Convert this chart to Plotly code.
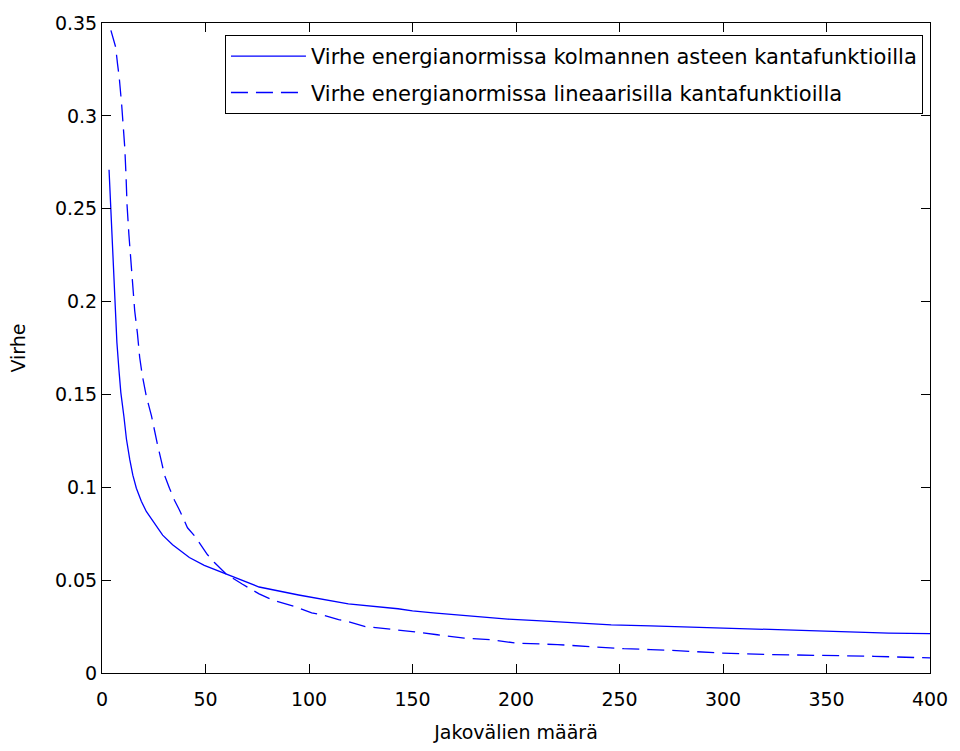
import plotly.graph_objects as go

# Cubic basis functions error (solid)
x_cubic = [3.4, 4.3, 5.3, 6.6, 7.2, 8.2, 9.1, 10.6, 11.8, 13.4, 14.9, 16.6, 19.0, 21.4,
           24.5, 29.3, 34.1, 42.2, 49.4, 60.0, 75.9, 95.0, 106.0, 119.0, 143.0, 150.0,
           160.0, 172.0, 184.0, 196.0, 210.0, 228.0, 246.0, 265.0, 290.0, 315.0, 345.0,
           380.0, 400.0]
err_cubic = [0.271, 0.250, 0.222, 0.197, 0.178, 0.163, 0.151, 0.138, 0.126, 0.115,
             0.1065, 0.0995, 0.0925, 0.087, 0.082, 0.0742, 0.0691, 0.0622, 0.058,
             0.0532, 0.0463, 0.042, 0.0399, 0.0372, 0.0346, 0.0335, 0.0324, 0.0312,
             0.0303, 0.0290, 0.0282, 0.0271, 0.0259, 0.0254, 0.0245, 0.0236, 0.0227,
             0.0215, 0.0212]

# Linear basis functions error (dashed)
x_linear = [4.3, 6.6, 7.5, 8.3, 9.5, 10.2, 11.0, 11.6, 12.1, 13.0, 13.9, 14.9, 15.8,
            17.1, 18.2, 19.5, 21.4, 23.9, 25.4, 26.9, 28.7, 30.2, 32.6, 35.0, 37.4,
            41.3, 44.6, 50.9, 54.2, 60.0, 67.7, 75.9, 82.1, 88.8, 93.6, 101.3, 106.0,
            114.3, 119.0, 127.2, 132.0, 139.7, 150.0, 162.0, 175.0, 188.0, 200.0,
            220.0, 240.0, 252.0, 265.0, 275.0, 298.0, 324.0, 373.0, 400.0]
err_linear = [0.346, 0.337, 0.328, 0.321, 0.306, 0.296, 0.283, 0.268, 0.252, 0.236,
              0.222, 0.207, 0.195, 0.183, 0.170, 0.160, 0.149, 0.1385, 0.130, 0.1225,
              0.114, 0.1065, 0.0995, 0.093, 0.0878, 0.0782, 0.074, 0.0638, 0.0596,
              0.0532, 0.0479, 0.0426, 0.0394, 0.0372, 0.0356, 0.0324, 0.0314, 0.0287,
              0.0277, 0.025, 0.0245, 0.0234, 0.0223, 0.0206, 0.0188, 0.0179, 0.0161,
              0.0153, 0.0138, 0.0131, 0.0126, 0.0122, 0.0108, 0.0099, 0.009, 0.0081]

x_ticks = [0, 50, 100, 150, 200, 250, 300, 350, 400]
y_ticks = [0, 0.05, 0.1, 0.15, 0.2, 0.25, 0.3, 0.35]
y_tick_labels = ["0", "0.05", "0.1", "0.15", "0.2", "0.25", "0.3", "0.35"]

FONT = "DejaVu Sans"

fig = go.Figure()
fig.add_trace(go.Scatter(
    x=x_cubic, y=err_cubic, mode="lines", legendgroup="a",
    line=dict(color="#0000ff", width=1.3),
    name="Virhe energianormissa kolmannen asteen kantafunktioilla"))
fig.add_trace(go.Scatter(
    x=x_linear, y=err_linear, mode="lines", legendgroup="b",
    line=dict(color="#0000ff", width=1.3, dash="17px,8px"),
    name="Virhe energianormissa lineaarisilla kantafunktioilla"))

axis_common = dict(
    showgrid=False, zeroline=False, showline=True, linecolor="black", linewidth=1,
    mirror="allticks", ticks="inside", ticklen=9, tickcolor="black", tickwidth=1,
    tickfont=dict(family=FONT, size=19, color="black"),
)

fig.update_layout(
    width=960, height=751,
    margin=dict(l=102, r=24, t=18, b=74),
    paper_bgcolor="white", plot_bgcolor="white",
    font=dict(family=FONT, size=19, color="black"),
    xaxis=dict(range=[0, 400], tickvals=x_ticks, ticklabelstandoff=9,
               title=dict(text="Jakovälien määrä", font=dict(family=FONT, size=19), standoff=16),
               **axis_common),
    yaxis=dict(range=[0, 0.35], tickvals=y_ticks, ticktext=y_tick_labels,
               title=dict(text="Virhe", font=dict(family=FONT, size=19), standoff=24),
               **axis_common),
    legend=dict(x=0.9915, y=0.9815, xanchor="right", yanchor="top",
                bgcolor="white", bordercolor="black", borderwidth=1,
                font=dict(family=FONT, size=21, color="black"),
                itemwidth=75, tracegroupgap=6),
    showlegend=True,
)

fig.write_html("out.html")
